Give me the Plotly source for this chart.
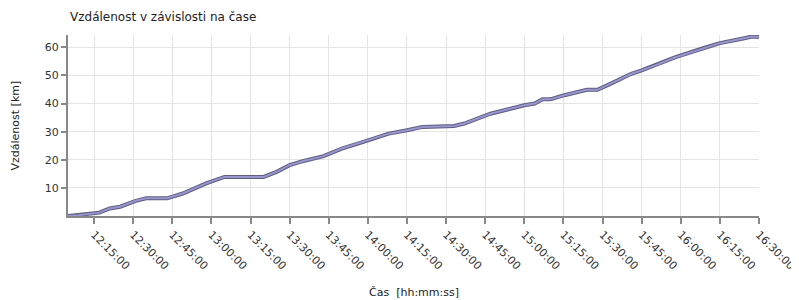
import plotly.graph_objects as go

times = ["12:05","12:09","12:17","12:21","12:25","12:31","12:35","12:43","12:49","12:58",
         "13:05","13:20","13:25","13:30","13:35","13:43","13:50","13:58","14:08","14:15",
         "14:21","14:33","14:37","14:47","14:52","15:00","15:04","15:07","15:10","15:15",
         "15:24","15:28","15:33","15:41","15:45","15:50","15:58","16:08","16:15","16:23",
         "16:27","16:30"]
distance_km = [0.0,0.3,1.2,2.7,3.3,5.4,6.3,6.3,8.0,11.6,
               13.9,13.9,15.7,18.1,19.5,21.3,24.0,26.3,29.3,30.5,
               31.7,32.0,32.9,36.4,37.6,39.4,40.0,41.5,41.5,42.9,
               44.9,44.9,47.0,50.6,51.8,53.5,56.5,59.5,61.5,63.0,
               63.8,63.8]
y_ticks = [10, 20, 30, 40, 50, 60]

x = ["2010-01-01 " + t + ":00" for t in times]

font = "DejaVu Sans, Verdana, sans-serif"
fig = go.Figure()
fig.add_trace(go.Scatter(x=x, y=distance_km, mode="lines",
                         line=dict(color="#5f5d80", width=4), hoverinfo="skip"))
fig.add_trace(go.Scatter(x=x, y=distance_km, mode="lines",
                         line=dict(color="#9896cc", width=2)))

fig.update_layout(
    width=791, height=292,
    margin=dict(l=60, r=40, t=27, b=84),
    paper_bgcolor="white", plot_bgcolor="white",
    showlegend=False,
    font=dict(family=font, size=11, color="#333"),
    xaxis=dict(
        type="date",
        range=["2010-01-01 12:05:00", "2010-01-01 16:30:00"],
        tick0="2010-01-01 12:15:00", dtick=900000,
        tickformat="%H:%M:%S", tickangle=45,
        ticklabeloverflow="allow", automargin=False,
        showgrid=True, gridcolor="#e4e4e4", gridwidth=1,
        showline=True, linecolor="#888", linewidth=2,
        ticks="outside", ticklen=6, tickcolor="#888", tickwidth=1.5,
        tickfont=dict(size=11, color="#333"),
        zeroline=False,
    ),
    yaxis=dict(
        range=[0, 64.4],
        tickvals=y_ticks, automargin=False,
        showgrid=True, gridcolor="#e4e4e4", gridwidth=1,
        showline=True, linecolor="#888", linewidth=2,
        ticks="outside", ticklen=5, tickcolor="#888", tickwidth=1.5,
        tickfont=dict(size=11, color="#333"),
        zeroline=False,
    ),
    annotations=[
        dict(text="Vzdálenost v závislosti na čase", xref="paper", yref="paper",
             x=0, y=1, yshift=18, xanchor="left", yanchor="middle",
             showarrow=False, font=dict(size=12, color="#222", family=font)),
        dict(text="Vzdálenost [km]", xref="paper", yref="paper",
             x=0, y=0.5, xshift=-53, xanchor="center", yanchor="middle",
             textangle=-90, showarrow=False, font=dict(size=11, color="#222", family=font)),
        dict(text="Čas  [hh:mm:ss]", xref="paper", yref="paper",
             x=0.5, y=0, yshift=-76, xanchor="center", yanchor="middle",
             showarrow=False, font=dict(size=11, color="#222", family=font)),
        dict(text="Pro zvětšení klikněte", xref="paper", yref="paper",
             x=1, y=1, yshift=31, xanchor="right", yanchor="middle",
             showarrow=False, font=dict(size=10, color="#d0d0d0", family=font)),
    ],
)

fig.write_html("out.html")
